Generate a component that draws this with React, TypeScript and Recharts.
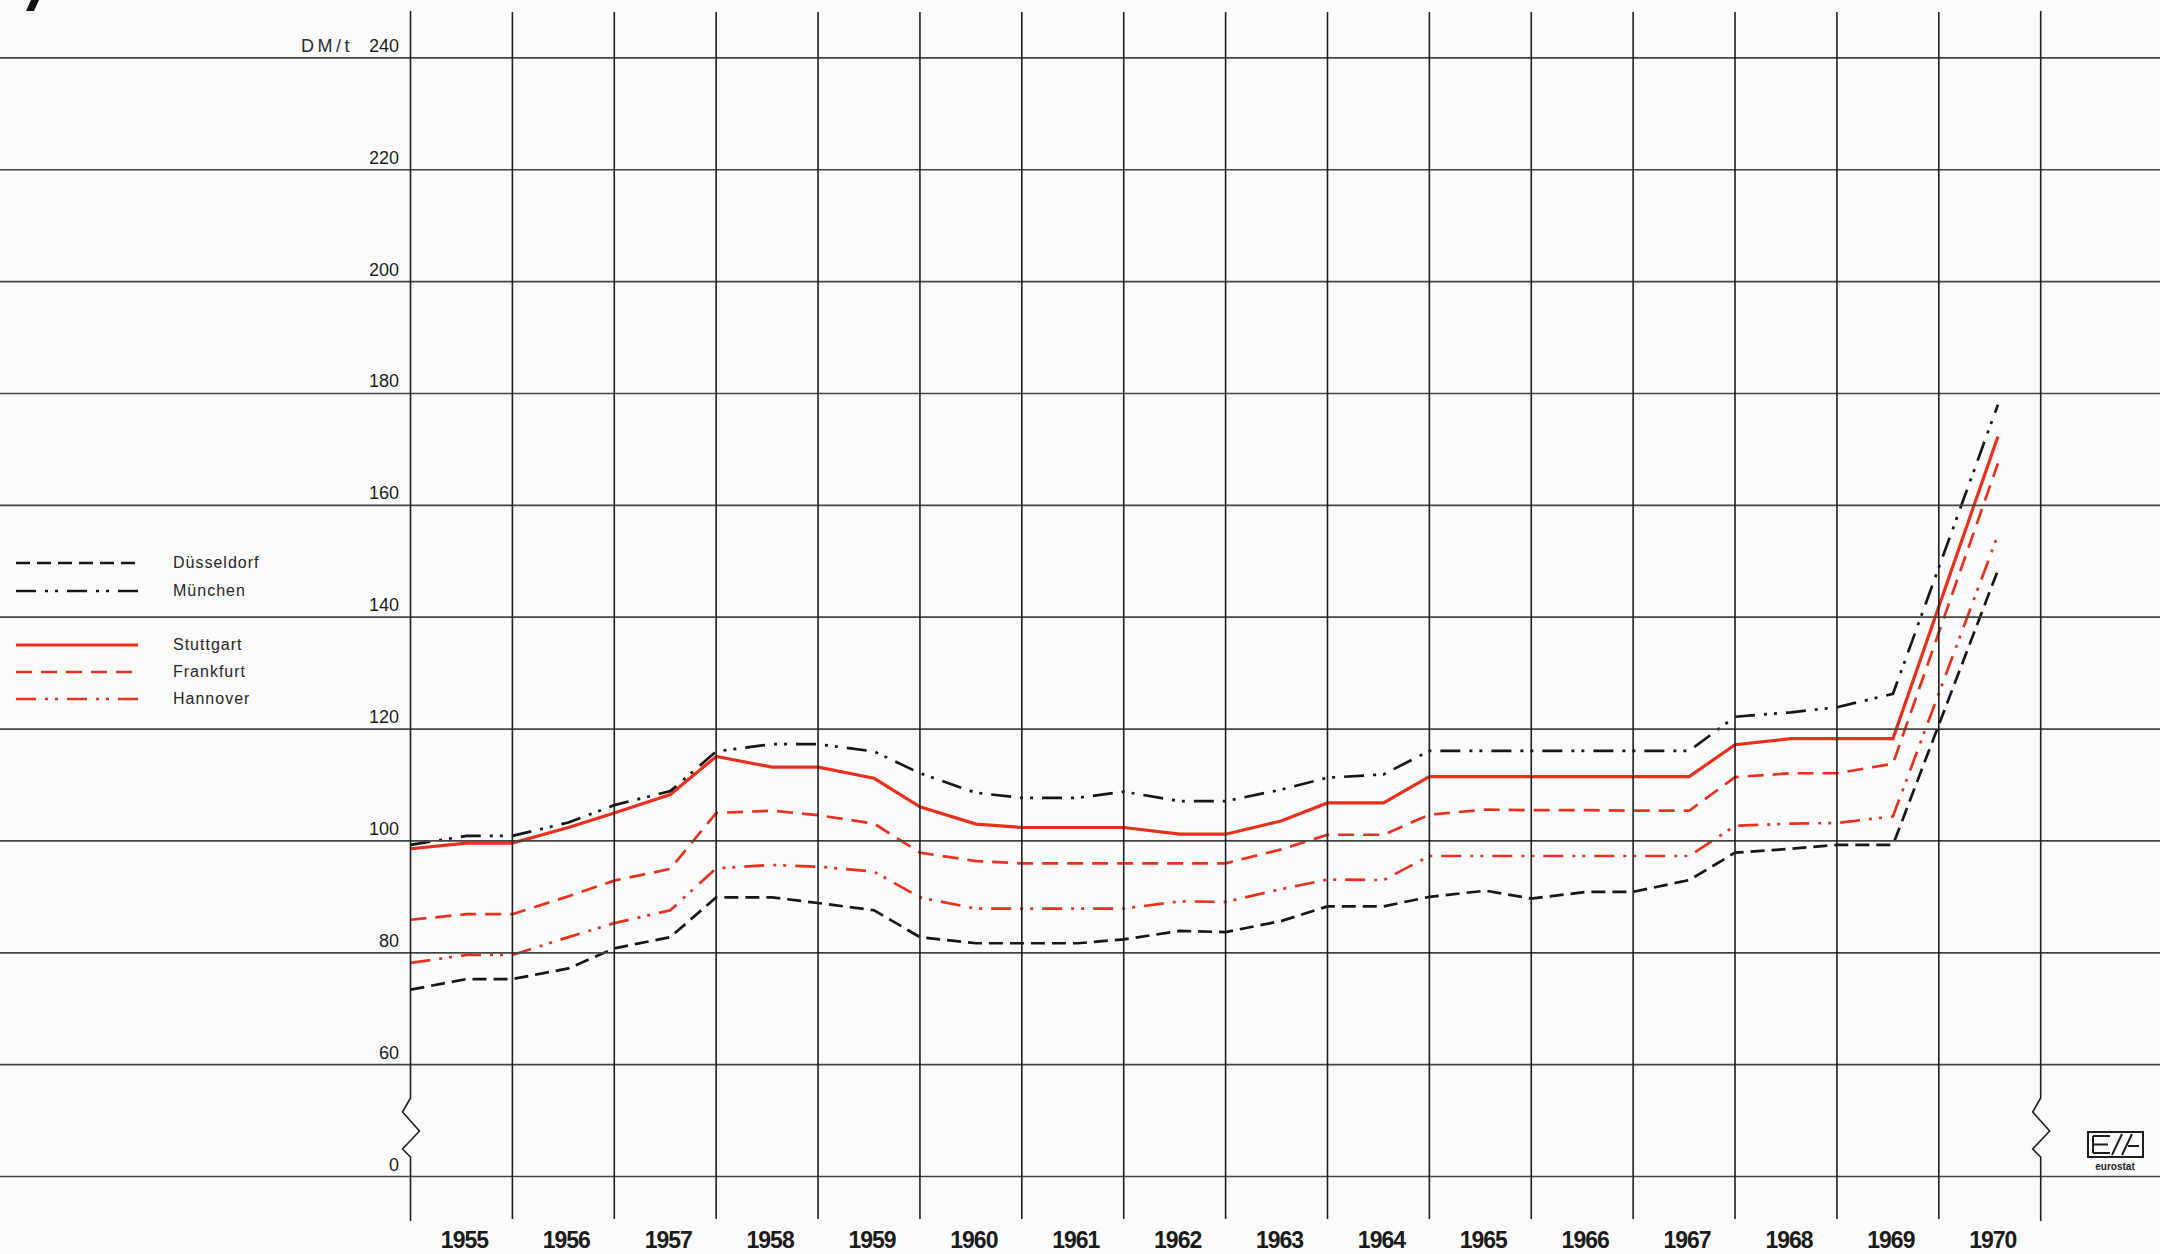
import React from 'react';
import { LineChart, Line, XAxis, YAxis } from 'recharts';

// x positions of the polyline breakpoints (fractional years)
const POSITIONS = [
  1955, 1955.55, 1956, 1956.55, 1957, 1957.55, 1958, 1958.55, 1959, 1959.55,
  1960, 1960.55, 1961, 1961.55, 1962, 1962.55, 1963, 1963.55, 1964, 1964.55,
  1965, 1965.55, 1966, 1966.55, 1967, 1967.55, 1968, 1968.55, 1969, 1969.55, 1970.58,
];

const DUESSELDORF = [
  73.4, 75.3, 75.3, 77.2, 80.8, 82.8, 89.9, 89.9, 88.9, 87.6,
  82.8, 81.7, 81.7, 81.7, 82.4, 83.9, 83.7, 85.7, 88.3, 88.3,
  90.0, 91.1, 89.7, 90.9, 90.9, 93.0, 97.9, 98.6, 99.3, 99.3, 148.4,
];
const MUENCHEN = [
  99.3, 100.9, 100.9, 103.3, 106.4, 108.9, 116.0, 117.3, 117.3, 116.0,
  112.1, 108.6, 107.7, 107.7, 108.8, 107.1, 107.1, 109.2, 111.3, 111.9,
  116.1, 116.1, 116.1, 116.1, 116.1, 116.1, 122.2, 123.0, 123.9, 126.3, 178.0,
];
const STUTTGART = [
  98.6, 99.6, 99.6, 102.4, 105.0, 108.3, 115.1, 113.2, 113.2, 111.2,
  106.1, 103.0, 102.4, 102.4, 102.4, 101.2, 101.2, 103.6, 106.8, 106.8,
  111.5, 111.5, 111.5, 111.5, 111.5, 111.5, 117.2, 118.3, 118.3, 118.3, 172.3,
];
const FRANKFURT = [
  85.9, 86.9, 86.9, 90.1, 92.9, 95.0, 105.0, 105.4, 104.6, 103.1,
  97.9, 96.4, 96.0, 96.0, 96.0, 96.0, 96.0, 98.5, 101.1, 101.1,
  104.7, 105.6, 105.5, 105.5, 105.4, 105.4, 111.4, 112.1, 112.1, 113.8, 167.5,
];
const HANNOVER = [
  78.2, 79.6, 79.6, 82.8, 85.3, 87.6, 95.1, 95.7, 95.4, 94.5,
  89.9, 87.9, 87.9, 87.9, 87.9, 89.2, 89.1, 91.4, 93.1, 93.0,
  97.3, 97.3, 97.3, 97.3, 97.3, 97.3, 102.7, 103.1, 103.2, 104.4, 154.7,
];

const YEARS = ['1955', '1956', '1957', '1958', '1959', '1960', '1961', '1962',
  '1963', '1964', '1965', '1966', '1967', '1968', '1969', '1970'];
const YEAR_BOUNDS = [1955, 1956, 1957, 1958, 1959, 1960, 1961, 1962, 1963,
  1964, 1965, 1966, 1967, 1968, 1969, 1970, 1971];
// 40 stands for the broken "0" line below 60
const Y_TICKS = [40, 60, 80, 100, 120, 140, 160, 180, 200, 220, 240];
const Y_LABELS = ['0', '60', '80', '100', '120', '140', '160', '180', '200', '220', '240'];

const RED = '#e8311c';
const BLACK = '#161616';
const DASH_DOT = '20 9 3 7 3 9';

const SERIES = [
  { key: 'hannover', name: 'Hannover', color: RED, dash: DASH_DOT, width: 2.7 },
  { key: 'frankfurt', name: 'Frankfurt', color: RED, dash: '16 9', width: 2.7 },
  { key: 'stuttgart', name: 'Stuttgart', color: RED, dash: undefined, width: 3.2 },
  { key: 'duesseldorf', name: 'Düsseldorf', color: BLACK, dash: '14 7', width: 2.7 },
  { key: 'muenchen', name: 'München', color: BLACK, dash: DASH_DOT, width: 2.7 },
];

const LEGEND = [
  { key: 'duesseldorf', y: 563 },
  { key: 'muenchen', y: 591 },
  { key: 'stuttgart', y: 645 },
  { key: 'frankfurt', y: 672 },
  { key: 'hannover', y: 699 },
];

const rows = POSITIONS.map((x, i) => ({
  x,
  duesseldorf: DUESSELDORF[i],
  muenchen: MUENCHEN[i],
  stuttgart: STUTTGART[i],
  frankfurt: FRANKFURT[i],
  hannover: HANNOVER[i],
}));

const W = 2160;
const H = 1254;
const FONT = '"Liberation Sans", Arial, sans-serif';

function YTick(props: any) {
  const { y, payload } = props;
  const label = Y_LABELS[Y_TICKS.indexOf(payload.value)];
  return (
    <g>
      <line x1={0} x2={W} y1={y} y2={y} stroke="#454540" strokeWidth={1.7} />
      <text x={399} y={y - 6} textAnchor="end" fontSize={18} fill="#1c1c1c" fontFamily={FONT}>
        {label}
      </text>
      {payload.value === 240 && (
        <text x={301} y={y - 6} fontSize={18} fill="#2a2a2a"
          fontFamily={FONT} letterSpacing={3.5}>
          DM/t
        </text>
      )}
    </g>
  );
}

function BoundTick(props: any) {
  const { x, payload } = props;
  const v = payload.value;
  const broken = v === YEAR_BOUNDS[0] || v === YEAR_BOUNDS[YEAR_BOUNDS.length - 1];
  if (!broken) {
    return <line x1={x} x2={x} y1={12} y2={1219} stroke="#1e1e1e" strokeWidth={1.6} />;
  }
  const d = `M${x},11 L${x},1098 L${x - 8},1112 L${x + 9},1131 L${x - 8},1149 L${x},1157 L${x},1221`;
  return <path d={d} fill="none" stroke="#1e1e1e" strokeWidth={1.6} />;
}

function YearTick(props: any) {
  const { x, payload } = props;
  const label = YEARS[Math.floor(payload.value) - 1955];
  return (
    <text x={x + 3} y={1248} textAnchor="middle" fontSize={23} fontWeight="bold"
      fill="#1a1a1a" fontFamily={FONT} letterSpacing={-1}>
      {label}
    </text>
  );
}

function Overlay() {
  return (
    <svg width={W} height={H} style={{ position: 'absolute', left: 0, top: 0, pointerEvents: 'none' }}>
      <polygon points="31,0 39,0 34,11 26,11" fill="#111" />
      {LEGEND.map((l) => {
        const s = SERIES.find((q) => q.key === l.key)!;
        return (
          <g key={l.key}>
            <line x1={16} x2={138} y1={l.y} y2={l.y} stroke={s.color}
              strokeWidth={s.width} strokeDasharray={s.dash} />
            <text x={173} y={l.y + 5} fontSize={16} fill="#262626" fontFamily={FONT} letterSpacing={1}>
              {s.name}
            </text>
          </g>
        );
      })}
      <g stroke="#1e1e1e" fill="none" strokeWidth={2}>
        <rect x={2088} y={1132} width={55} height={25} />
        <path d="M2093,1136 L2093,1153 M2093,1136 L2110,1136 M2093,1144.5 L2108,1144.5 M2093,1153 L2110,1153" />
        <path d="M2112,1155 L2122,1134 M2122,1155 L2132,1134 M2128,1146 L2139,1146" />
      </g>
      <text x={2115} y={1170} textAnchor="middle" fontSize={10} fontWeight="bold"
        fill="#222" fontFamily={FONT}>
        eurostat
      </text>
    </svg>
  );
}

export default function App() {
  return (
    <div style={{ position: 'relative', width: W, height: H, background: '#fbfbfb' }}>
      <style>{'body{margin:0;}'}</style>
      <LineChart width={W} height={H} data={rows}
        margin={{ top: 57.9, right: 119.3, bottom: 0, left: 310.5 }}>
        <YAxis type="number" domain={[40, 240]} ticks={Y_TICKS} interval={0}
          width={100} axisLine={false} tickLine={false} tick={(p: any) => <YTick {...p} />} />
        <XAxis xAxisId={0} dataKey="x" type="number" domain={[1955, 1971]} ticks={YEAR_BOUNDS}
          interval={0} height={40} axisLine={false} tickLine={false}
          tick={(p: any) => <BoundTick {...p} />} />
        <XAxis xAxisId="labels" dataKey="x" type="number" domain={[1955, 1971]}
          ticks={YEARS.map((y) => Number(y) + 0.5)} interval={0} height={37.5}
          axisLine={false} tickLine={false} tick={(p: any) => <YearTick {...p} />} />
        {SERIES.map((s) => (
          <Line key={s.key} xAxisId={0} dataKey={s.key} name={s.name} type="linear"
            stroke={s.color} strokeWidth={s.width} strokeDasharray={s.dash}
            dot={false} activeDot={false} isAnimationActive={false} />
        ))}
      </LineChart>
      <Overlay />
    </div>
  );
}
